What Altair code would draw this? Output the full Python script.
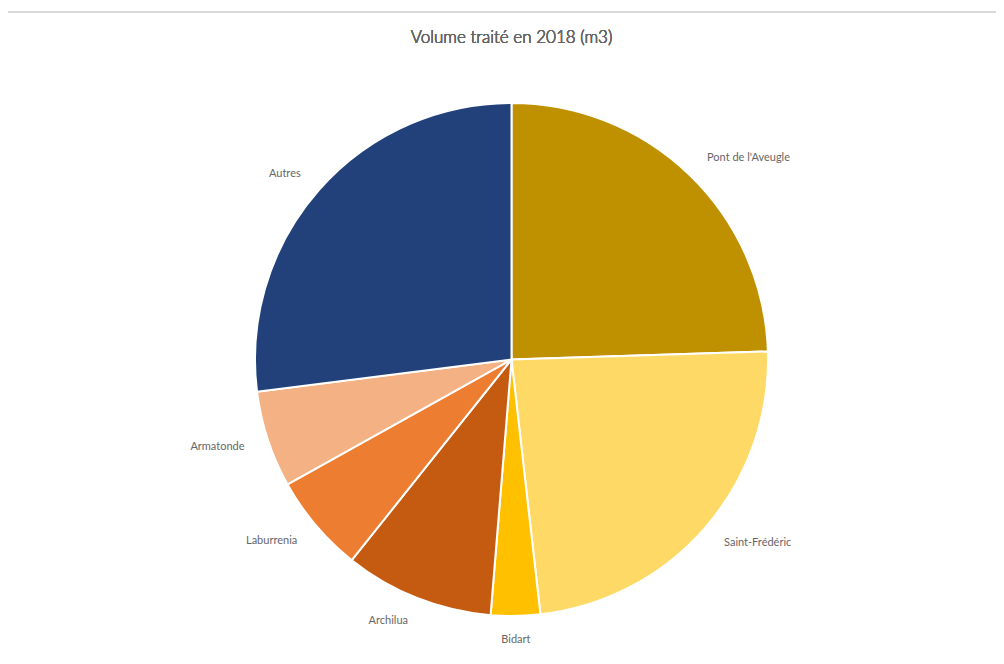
import altair as alt
import pandas as pd

title_text = "Volume traité en 2018 (m3)"
categories = ["Pont de l'Aveugle", "Saint-Frédéric", "Bidart", "Archilua",
              "Laburrenia", "Armatonde", "Autres"]
volumes = [24.5, 23.7, 3.1, 9.4, 6.2, 6.1, 27.0]
colors = ["#BF9000", "#FFD966", "#FFC000", "#C55A11", "#ED7D31", "#F4B183", "#22417A"]
right_labels = ["Pont de l'Aveugle", "Saint-Frédéric"]
bottom_labels = ["Bidart"]
left_labels = ["Archilua", "Laburrenia", "Armatonde", "Autres"]

total = sum(volumes)
df = pd.DataFrame({"cat": categories, "vol": volumes, "order": list(range(len(categories)))})

W, H = 988, 648
CX, CY = 503.5, 351.5
R = 256.5
LR = 281

theta_scale = alt.Scale(domain=[0, total])
color_scale = alt.Scale(domain=categories, range=colors)

base = (
    alt.Chart(df)
    .transform_window(cum="sum(vol)", sort=[{"field": "order"}], frame=[None, 0])
    .transform_calculate(start="datum.cum - datum.vol", mid="datum.cum - datum.vol/2")
)

pie = base.mark_arc(radius=R, stroke="white", strokeWidth=2).encode(
    theta=alt.Theta("start:Q", scale=theta_scale, stack=None),
    theta2="cum:Q",
    color=alt.Color("cat:N", scale=color_scale, legend=None),
    x=alt.value(CX),
    y=alt.value(CY),
)


def labels(names, align):
    return (
        base.transform_filter(alt.FieldOneOfPredicate(field="cat", oneOf=names))
        .mark_text(radius=LR, align=align, baseline="middle", font="Lato",
                   fontSize=11, fontWeight="normal", color="#666666")
        .encode(
            theta=alt.Theta("mid:Q", scale=theta_scale, stack=None),
            text="cat:N",
            x=alt.value(CX),
            y=alt.value(CY),
        )
    )


border = alt.Chart(df).mark_rect(fillOpacity=0, stroke="#D9D9D9", strokeWidth=1).encode(
    x=alt.value(-4), x2=alt.value(1000), y=alt.value(4), y2=alt.value(700)
)

title = alt.Chart(df).mark_text(font="Lato", fontSize=17, fontWeight=300, color="#666666",
                                align="center", baseline="middle").encode(
    x=alt.value(CX), y=alt.value(30), text=alt.value(title_text)
)

chart = (
    alt.layer(border, pie, labels(right_labels, "left"), labels(bottom_labels, "center"),
              labels(left_labels, "right"), title)
    .properties(width=W, height=H, autosize="none", padding=0)
    .configure_view(stroke=None)
)

chart.save("out.html", embed_options={"renderer": "svg", "actions": False})
